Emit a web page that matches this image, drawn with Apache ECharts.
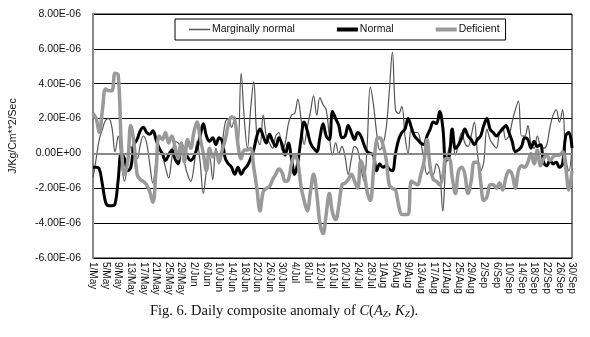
<!DOCTYPE html>
<html>
<head>
<meta charset="utf-8">
<script src="https://cdn.jsdelivr.net/npm/echarts@6/dist/echarts.min.js"></script>
<style>
  html, body { margin: 0; padding: 0; background: #fff; }
  #main { width: 590px; height: 337px; }
</style>
</head>
<body>
<div id="main"></div>
<script>
// months of the season, days in each
var months = [['May', 31], ['Jun', 30], ['Jul', 31], ['Aug', 31], ['Sep', 30]];
var days = [];
months.forEach(function (m) {
  for (var d = 1; d <= m[1]; d++) days.push(d + '/' + m[0]);
});

// values in units of 1E-06 J/Kg/Cm**2/Sec, 1 May .. 30 Sep
var marginal = [
  -1.4, -0.3, 0.8, 1.4, 1.9, 2.0, 1.5, 0.1, 1.0, -0.5,
  -1.6, -0.5, 0.4, -0.2, -0.3, 0.5, 1.0, 0.6, -0.6, -1.7,
  -0.5, 0.3, -0.1, -0.8, -1.4, -0.3, 0.7, 0.6, 0.3, -0.5,
  -1.2, -1.6, -0.8, 0.7, -0.5, -2.3, -1.0, -0.2, -1.5, 0.3,
  -0.6, 0.5, 1.8, 2.0, 1.5, 2.1, 0.3, 4.6, 2.0, 0.3,
  2.5, 4.1, 1.0, 0.5, 2.2, 1.0, 0.6, 0.3, 1.0, 1.2,
  0.2, 0.6, 1.7, 2.2, 2.3, 3.1, 2.0, 0.5, 1.5, 2.4,
  3.3, 2.2, 3.2, 2.8, 2.5, 1.0, -0.1, 0.6, 0.0, 0.4,
  -0.2, -1.2, -0.3, 0.4, 0.2, -0.8, -1.6, 0.5, 3.8, 2.8,
  1.2, 0.2, 0.5, 1.4, 3.5, 5.8, 2.5, 2.3, 2.7, 1.0,
  0.0, 1.4, 1.2, 1.2, 0.6, -0.3, -1.2, -1.0, -1.2, -0.6,
  -1.0, -3.3, -0.5, 0.3, 0.9, -0.1, 0.6, 1.2, 0.6, 0.4,
  1.0, 1.8, 0.0, -1.0, -0.5, 1.4, 0.8, 0.5, 0.3, 1.2,
  1.5, 0.8, 1.0, 1.8, 2.5, 3.0, 1.0, 1.0, 1.6, 0.5,
  0.3, 1.0, 0.4, 0.3, 0.5, 1.5, 2.2, 2.5, 1.8, 2.5,
  -0.2, -1.0, 0.4
];
var normal = [
  -0.8, -0.8, -0.9, -1.8, -2.8, -3.0, -3.0, -2.9, -1.5, 0.0,
  -0.3, -1.0, -0.8, 0.5, 0.8, 1.3, 1.5, 1.2, 1.1, 1.3,
  0.8, 0.3, 0.0, -0.4, -0.1, 0.2, -0.3, -0.6, 0.5, 0.2,
  -0.2, -0.4, -0.2, 0.3, 1.0, 1.7, 1.0, 0.7, 0.9, 0.5,
  0.9, 0.7, -0.3, -0.6, -0.8, -1.2, -0.8, -1.2, -0.9, -0.7,
  -0.3, 0.2, 1.0, 1.4, 1.0, 0.6, 1.1, 0.7, 0.4, 0.9,
  0.5, -0.1, 0.6, -0.3, -1.2, -0.5, 0.8, 1.8, 1.3, 0.6,
  0.3, 0.1, 0.9, 1.7, 1.0, 0.8, 2.4, 2.0, 1.6, 0.9,
  1.0, 1.6, 1.2, 0.8, 1.2, 1.0, 0.5, 0.1, 0.0, -0.1,
  -1.0, -0.6, -0.8, -0.7, -0.9, -1.0, 0.0, 0.8, 1.2, 1.4,
  2.0, 1.5, 1.0, 0.8, 0.6, 0.5, 1.0, 1.4, 1.8, 1.7,
  2.4, 1.5, -0.4, -0.2, 1.4, 0.3, 0.5, 0.9, 1.4, 1.0,
  0.8, 0.5, 0.8, 1.0, 1.6, 2.0, 1.4, 1.2, 1.0, 1.2,
  1.4, 1.6, 1.2, 0.7, 0.1, 0.2, 0.4, 0.9, 0.8, 0.3,
  0.7, 0.4, 0.5, -0.5, -0.7, -0.4, -0.6, -0.5, -0.8, -0.6,
  1.0, 1.2, 0.3
];
var deficient = [
  2.3, 2.0, 1.2, 2.5, 3.7, 3.6, 3.6, 4.6, 4.5, 0.5,
  -1.2, -0.5, 1.6, 0.6, -1.2, -1.5, -1.6, -1.8, -2.2, -2.8,
  -1.0, 1.0, 0.8, 1.2, 0.6, 1.0, 0.4, -0.3, 0.6, -0.5,
  0.8, 0.3, 1.2, 1.8, 0.9, 0.0, -1.0, 0.3, -0.2, 0.1,
  -0.5, 0.2, 0.8, 1.7, 2.1, 1.9, 0.5, -0.3, 0.2, 0.2,
  0.3, -0.8, -2.0, -3.3, -2.2, -2.0, -1.9, -1.5, -1.2, -0.9,
  -1.1, -1.6, -1.5, -0.6, -0.1, -0.5, -1.9, -2.7, -3.3, -2.2,
  -1.2, -2.3, -4.0, -4.6, -3.5, -2.3, -3.4, -3.8, -3.0, -1.8,
  -1.7, -1.5, -1.2, -1.6, -2.0, -0.4, -1.0, -2.2, -2.7, -1.0,
  0.8, 0.9, 0.5, -0.3, -1.8, -2.0, -2.1, -3.0, -3.5, -3.5,
  -3.5, -1.6, -1.7, -1.8, -1.2, -0.5, 0.8, -0.8, -1.5, -1.6,
  -1.8, -1.3, -0.3, -0.3, -1.4, -2.3, -1.0, -0.8, -1.2, -2.3,
  -1.6, -0.5, -0.5, -1.6, -2.7, -2.5, -1.8, -1.8, -2.0, -1.7,
  -2.1, -1.4, -1.0, -1.2, -2.0, -1.0, -0.7, -0.8, -0.5, 0.0,
  -0.6, 0.2, -0.7, -0.3, -0.1, -0.4, -0.2, -0.1, -0.1, 0.1,
  -0.8, -2.1, -1.0
];
var yTicks = [-6, 8, 2]; // min, max, step (x 1E-06)

function sci(v) {
  if (v === 0) return '0.00E+00';
  return (v < 0 ? '-' : '') + Math.abs(v).toFixed(2) + 'E-06';
}

// legend samples: plain bars, the thin one padded by near-invisible edges
var thinIcon = 'path://M0,0h21v0.01h-21z M0,1.3h21v1.4h-21z M0,3.99h21v0.01h-21z';
var thickIcon = 'path://M0,0h21v4h-21z';

var chart = echarts.init(document.getElementById('main'));
chart.setOption({
  backgroundColor: '#fff',
  animation: false,
  textStyle: { fontFamily: 'Liberation Sans, Arial, sans-serif' },
  grid: {
    left: 86, right: 18, top: 14, bottom: 79,
    show: true, borderColor: '#000', borderWidth: 1
  },
  legend: {
    left: 175, top: 19,
    padding: [5, 6, 5, 14],
    itemGap: 42,
    itemWidth: 21, itemHeight: 4,
    backgroundColor: '#fff',
    borderColor: '#000', borderWidth: 1,
    borderRadius: 0,
    textStyle: { fontSize: 10.5, color: '#111', padding: [0, 0, 0, -3] },
    data: [
      { name: 'Marginally normal', icon: thinIcon },
      { name: 'Normal', icon: thickIcon },
      { name: 'Deficient', icon: thickIcon }
    ]
  },
  xAxis: {
    type: 'category',
    data: days,
    boundaryGap: false,
    axisLine: { show: false },
    axisTick: { show: false },
    splitLine: { show: false },
    axisLabel: {
      interval: 3, rotate: -90, margin: 4,
      fontSize: 10, color: '#111'
    }
  },
  yAxis: {
    type: 'value',
    min: yTicks[0], max: yTicks[1], interval: yTicks[2],
    name: 'J/Kg/Cm**2/Sec',
    nameLocation: 'middle', nameGap: 74,
    nameTextStyle: { fontSize: 10.5, color: '#111' },
    axisLine: { show: true, lineStyle: { color: '#888', width: 2 } },
    axisTick: { show: false },
    splitLine: { lineStyle: { color: '#000', width: 1 } },
    axisLabel: { formatter: sci, fontSize: 10.5, color: '#111', margin: 12 }
  },
  graphic: [{
    type: 'text', left: 150, top: 304,
    style: {
      text: 'Fig. 6. Daily composite anomaly of {i|C}(' + '{i|A}{s|Z}, {i|K}{s|Z}).',
      font: '14.5px "Liberation Serif", "Times New Roman", serif',
      fill: '#111',
      rich: {
        i: { fontFamily: 'Liberation Serif', fontStyle: 'italic', fontSize: 14.5 },
        s: { fontFamily: 'Liberation Serif', fontStyle: 'italic', fontSize: 9, padding: [6, 0, 0, 0] }
      }
    }
  }],
  series: [{
    name: 'Zero',
    type: 'line',
    data: [],
    silent: true,
    z: 1,
    markLine: {
      silent: true, symbol: 'none', label: { show: false },
      lineStyle: { color: '#888', width: 2, type: 'solid' },
      data: [{ yAxis: 0 }]
    }
  }, {
    name: 'Marginally normal',
    type: 'line',
    data: marginal,
    smooth: 0.4,
    symbol: 'none',
    z: 2,
    lineStyle: { color: '#555', width: 1.2 },
    itemStyle: { color: '#555' }
  }, {
    name: 'Normal',
    type: 'line',
    data: normal,
    smooth: 0.4,
    symbol: 'none',
    z: 3,
    lineStyle: { color: '#000', width: 3 },
    itemStyle: { color: '#000' }
  }, {
    name: 'Deficient',
    type: 'line',
    data: deficient,
    smooth: 0.4,
    symbol: 'none',
    z: 4,
    lineStyle: { color: '#999', width: 3.5 },
    itemStyle: { color: '#999' }
  }]
});
</script>
</body>
</html>
